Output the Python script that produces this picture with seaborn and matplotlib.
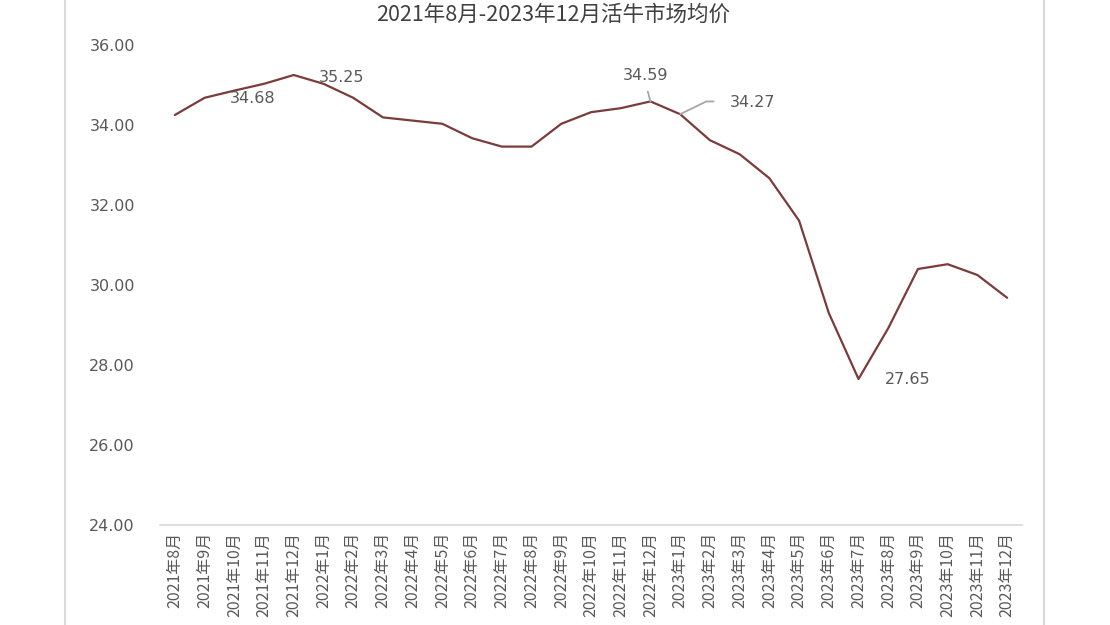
import matplotlib
matplotlib.use("Agg")
import matplotlib.pyplot as plt
from matplotlib.lines import Line2D
import seaborn as sns
import pandas as pd

months = ["2021年8月", "2021年9月", "2021年10月", "2021年11月", "2021年12月",
          "2022年1月", "2022年2月", "2022年3月", "2022年4月", "2022年5月", "2022年6月",
          "2022年7月", "2022年8月", "2022年9月", "2022年10月", "2022年11月", "2022年12月",
          "2023年1月", "2023年2月", "2023年3月", "2023年4月", "2023年5月", "2023年6月",
          "2023年7月", "2023年8月", "2023年9月", "2023年10月", "2023年11月", "2023年12月"]
prices = [34.25, 34.68, 34.86, 35.03, 35.25,
          35.03, 34.68, 34.19, 34.11, 34.03, 33.67,
          33.46, 33.46, 34.03, 34.32, 34.42, 34.59,
          34.27, 33.62, 33.27, 32.67, 31.61, 29.30,
          27.65, 28.92, 30.40, 30.52, 30.25, 29.68]
y_ticks = [24, 26, 28, 30, 32, 34, 36]
title = "2021年8月-2023年12月活牛市场均价"

# labelled points: (index -> offset in pixels, leader line kind)
labels = {1: (48, -1, None), 4: (48, -2, None), 16: (-5, 26, "up"), 17: (72, 12, "elbow"), 23: (49, -1, None)}

sns.set_theme(style="white")
plt.rcParams["font.family"] = ["Noto Sans CJK SC", "DejaVu Sans"]

fig = plt.figure(figsize=(11.1, 6.25), dpi=100)
ax = fig.add_axes([160 / 1110, 1 - 525 / 625, (1022 - 160) / 1110, (525 - 45) / 625])

df = pd.DataFrame({"month": months, "price": prices})
sns.lineplot(data=df, x="month", y="price", sort=False, color="#7B3B3B", linewidth=1.6, ax=ax)

ax.set_ylim(24, 36)
ax.set_xlim(-0.5, len(months) - 0.5)
ax.set_yticks(y_ticks)
ax.set_yticklabels([f"{v:.2f}" for v in y_ticks], fontsize=11.5, color="#595959", family="DejaVu Sans")
ax.set_xticks(range(len(months)))
ax.set_xticklabels(months, rotation=90, fontsize=11.5, color="#595959", va="top")
ax.tick_params(axis="y", length=0, pad=18)
ax.tick_params(axis="x", length=0, pad=5)
ax.set_xlabel("")
ax.set_ylabel("")
for s in ["top", "right", "left"]:
    ax.spines[s].set_visible(False)
ax.spines["bottom"].set_color("#d9d9d9")
ax.spines["bottom"].set_linewidth(1.2)
ax.grid(False)

for i, (dx, dy, kind) in labels.items():
    kw = dict(xy=(i, prices[i]), xytext=(dx, dy), textcoords="offset pixels",
              ha="center", va="center", fontsize=11.5, color="#595959", family="DejaVu Sans")
    if kind == "up":
        kw["arrowprops"] = dict(arrowstyle="-", color="#a6a6a6", lw=1.3, shrinkA=4, shrinkB=0,
                                relpos=(0.5, 0))
    elif kind == "elbow":
        kw["arrowprops"] = dict(arrowstyle="-", color="#a6a6a6", lw=1.3, shrinkA=9, shrinkB=0,
                                relpos=(0, 0.55), connectionstyle="angle,angleA=0,angleB=26")
    ax.annotate(f"{prices[i]:.2f}", **kw)

fig.text(0.498, 1 - 15 / 625, title, ha="center", va="center", fontsize=15.5, color="#404040")

# chart-area border fragments
fig.add_artist(Line2D([65 / 1110, 65 / 1110], [0, 1], color="#d9d9d9", lw=1.5))
fig.add_artist(Line2D([1044 / 1110, 1044 / 1110], [0, 1], color="#d9d9d9", lw=1.5))

fig.savefig("out.png", dpi=100, facecolor="white")
